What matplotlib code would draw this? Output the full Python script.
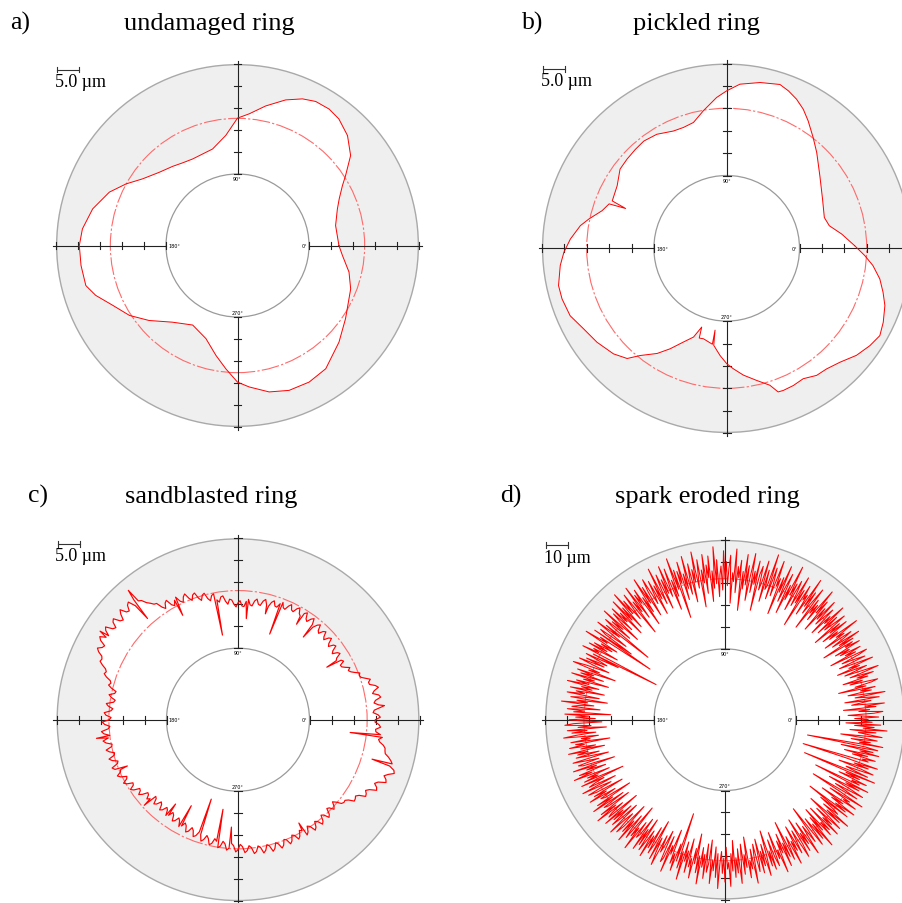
import numpy as np
import matplotlib
matplotlib.use("Agg")
import matplotlib.pyplot as plt
from matplotlib.patches import Circle

# ---- data: radial profile, in um above the inner (offset) circle ----
# a) undamaged ring, traced points
a_angle = [0, 11.5, 20, 24.7, 29.7, 32.9, 38.5, 45, 51.3, 56.1, 61.5, 66.1, 71.7, 78.6, 84.9, 90,
           96.1, 104.5, 117.4, 123.6, 129.3, 136.9, 144.9, 151.1, 157.4, 165.8, 173.9, 180, 187.3,
           194.8, 199.4, 205.6, 212.9, 220.3, 229.7, 240.6, 251.3, 258.9, 264.6, 270, 274.7, 282.2,
           289.6, 297.7, 305.6, 316.4, 325.9, 339, 346.6, 354.6]
a_dev = [6.8, 6.5, 7.9, 9.2, 11.2, 13.0, 16.6, 19.1, 20.6, 21.1, 21.0, 20.2, 18.6, 16.1, 13.8, 12.7,
         8.9, 6.4, 5.9, 6.3, 7.0, 8.1, 10.1, 12.7, 15.3, 17.7, 19.2, 19.7, 19.6,
         19.4, 17.9, 15.2, 13.0, 10.1, 6.6, 4.5, 6.1, 9.2, 11.9, 14.8, 16.0, 17.8,
         18.7, 18.8, 18.2, 15.6, 13.4, 11.3, 9.8, 7.7]
a_lsc = 12.65

# b) pickled ring
b_angle = [1.2, 7.1, 12.4, 17.5, 27.2, 37.9, 46.8, 52, 57.4, 61.2, 64.9, 68.6, 72, 78.6, 85.4, 90,
           93.8, 99.6, 104.8, 109.7, 114.4, 121.5, 127.7, 132.7, 138.2, 143.4, 150.3, 157.5, 158.5,
           159.3, 163.2, 168, 171.2, 176.6, 181.4, 185.9, 192.5, 197.1, 203.3, 209.4, 215.9, 223,
           227.9, 231.1, 236.5, 240.6, 245.2, 249.5, 252.4, 253, 255.6, 261.5, 261.9, 262.4, 266.4,
           270, 273.2, 277.5, 282.8, 287.5, 289.7, 291.7, 295.9, 300.4, 305.3, 309.6, 314.8, 320.5,
           325.8, 330.3, 334.7, 340.1, 344.3, 348.7, 353.3, 357]
b_dev = [12.3, 9.6, 7.2, 6.6, 7.8, 10.1, 13.1, 15.1, 17.5, 19.2, 20.5, 21.5, 22.2, 21.5, 20.5, 18.9,
         17.5, 14.9, 12.8, 12.4, 12.5, 13.6, 14.0, 13.8, 13.6, 13.4, 11.9, 11.4, 8.0,
         11.8, 12.8, 15.2, 16.8, 18.7, 20.1, 21.1, 22.2, 22.2, 21.8, 20.4, 19.5, 18.3,
         16.9, 14.5, 11.9, 9.5, 6.8, 4.9, 2.2, 4.7, 4.6, 5.4, 2.2, 5.6, 7.7,
         9.5, 10.7, 12.3, 14.0, 15.8, 17.8, 17.9, 17.8, 17.5, 18.5, 18.7, 19.6, 21.3,
         22.4, 23.1, 22.4, 21.3, 20.0, 18.6, 16.6, 14.6]
b_lsc = 15.0

# c) sandblasted ring, one value per degree, plus single spikes
c_step = 1
c_dev = [15.0, 16.1, 15.6, 14.5, 14.8, 16.4, 15.9, 14.9, 15.3, 16.6, 16.2, 14.9, 15.4, 16.5, 15.9,
         14.7, 14.6, 15.2, 14.2, 13.3, 13.1, 13.4, 12.4, 11.6, 11.2, 11.8, 10.9, 10.2, 10.1, 11.2,
         10.8, 9.8, 10.2, 11.4, 11.0, 9.9, 10.4, 11.6, 11.3, 10.2, 10.7, 11.9, 11.5, 10.4, 10.9,
         12.0, 11.6, 10.6, 11.0, 12.3, 11.8, 10.8, 11.2, 12.5, 12.0, 11.0, 11.4, 12.7, 12.2, 11.2,
         11.6, 12.8, 12.3, 11.3, 11.5, 12.6, 12.0, 11.0, 11.2, 12.3, 11.8, 10.8, 10.9, 12.0, 11.5,
         10.4, 10.6, 11.8, 11.3, 10.2, 10.4, 11.5, 11.0, 9.8, 10.0, 11.2, 10.7, 9.5, 9.6, 10.8,
         10.3, 9.4, 10.0, 11.0, 11.2, 10.1, 10.8, 12.1, 11.9, 10.8, 11.4, 12.9, 12.6, 11.5, 12.1,
         13.5, 13.2, 12.1, 12.8, 14.2, 13.9, 12.8, 13.5, 14.8, 14.3, 13.2, 13.7, 15.0, 14.5, 13.4,
         13.9, 15.4, 15.0, 13.9, 14.6, 16.0, 16.2, 16.9, 17.5, 18.6, 19.0, 19.8, 18.6, 20.3, 19.9,
         18.7, 19.0, 20.4, 19.6, 18.3, 18.7, 20.2, 19.8, 18.5, 18.9, 20.5, 20.0, 18.8, 19.1, 20.4,
         19.8, 18.4, 18.7, 19.6, 19.0, 17.9, 17.6, 17.8, 17.0, 16.0, 15.6, 15.9, 15.2, 14.1, 13.8,
         14.2, 13.4, 12.2, 12.4, 13.6, 13.0, 12.0, 12.3, 13.9, 13.4, 12.3, 12.7, 14.2, 13.8, 12.6,
         13.0, 14.6, 14.1, 12.9, 13.3, 14.9, 14.4, 13.1, 13.5, 14.8, 14.2, 12.9, 13.1, 14.5, 13.9,
         12.8, 13.0, 14.4, 13.8, 12.6, 12.9, 14.4, 13.9, 12.7, 13.0, 14.0, 13.4, 12.1, 12.4, 13.5,
         12.9, 11.6, 11.8, 12.9, 12.3, 11.0, 11.2, 12.0, 11.3, 10.1, 10.3, 11.2, 10.6, 9.3, 9.6,
         10.8, 10.4, 9.3, 9.7, 10.9, 10.5, 9.4, 9.8, 11.0, 10.6, 9.5, 9.9, 11.2, 10.8, 9.8,
         10.3, 11.5, 11.1, 10.1, 10.6, 11.9, 11.5, 10.4, 10.9, 12.2, 11.8, 10.7, 11.2, 12.6, 12.1,
         11.0, 11.6, 12.9, 12.5, 11.3, 11.8, 13.2, 12.8, 11.6, 12.1, 13.5, 13.0, 11.9, 12.4, 13.8,
         13.3, 12.1, 12.6, 14.0, 13.6, 12.5, 13.0, 14.4, 14.0, 12.8, 13.2, 14.6, 14.1, 12.9, 13.3,
         14.7, 14.2, 13.0, 13.4, 14.6, 14.1, 12.9, 13.2, 14.4, 13.9, 12.7, 13.0, 14.2, 13.7, 12.5,
         12.9, 14.3, 13.8, 12.6, 13.0, 14.4, 13.9, 12.7, 13.1, 14.3, 13.8, 12.5, 12.9, 14.1, 13.6,
         12.3, 12.6, 13.6, 13.1, 12.2, 12.9, 14.0, 14.3, 14.2, 14.8, 16.0, 15.9, 15.6, 16.2, 17.6,
         17.4, 16.9, 17.6, 19.1, 18.8, 18.0, 18.6, 20.3, 20.0, 19.3, 20.1, 21.3, 21.0, 19.8, 20.2,
         19.7, 19.0, 18.1, 17.9, 17.8, 17.3, 16.4, 16.0, 16.8, 16.3, 15.2, 15.1, 16.2, 15.8, 14.9]
c_spike_angle = [5.5, 30.6, 51.7, 58.5, 69.7, 75.5, 85.3, 100.4, 117.9, 130.3, 131.8, 147.3,
                 187.5, 202.7, 222.4, 233.5, 241.5, 251.4, 260.5, 266.5, 300.5, 343.6, 353.5]
c_spike_dev = [17.2, 7.2, 7.7, 9.2, 4.5, 8.6, 6.8, 3.3, 10.6, 22.3, 14.6, 21.0,
               16.2, 11.0, 12.6, 7.6, 6.0, 2.8, 4.4, 8.2, 11.0, 15.5, 9.4]
c_lsc = 13.1

# d) spark eroded ring, one value per half degree
d_step = 0.5
d_dev = [33, 27, 38, 31, 24, 36, 40, 29, 34, 22, 37, 32, 41, 26, 30, 35, 23, 39, 33, 28, 42, 30, 25, 36, 31, 38, 21, 34, 29, 37,
         40, 27, 33, 24, 36, 31, 39, 28, 35, 42, 26, 32, 37, 23, 34, 29, 41, 31, 25, 38, 33, 27, 36, 40, 22, 35, 30, 38, 28, 33,
         26, 39, 32, 36, 21, 37, 30, 41, 27, 34, 38, 24, 35, 31, 43, 28, 33, 25, 39, 30, 36, 22, 40, 34, 29, 37, 26, 42, 31, 35,
         24, 38, 33, 28, 41, 30, 36, 23, 39, 32, 44, 27, 35, 30, 37, 21, 42, 34, 28, 39, 31, 45, 26, 36, 33, 40, 19, 37, 30, 43,
         28, 35, 40, 25, 38, 32, 46, 29, 36, 22, 41, 34, 27, 44, 31, 38, 20, 37, 33, 45, 28, 35, 41, 26, 47, 32, 30, 39, 24, 43,
         33, 29, 40, 36, 19, 42, 31, 37, 27, 45, 34, 23, 39, 30, 44, 28, 36, 18, 41, 33, 38, 26, 46, 31, 35, 21, 43, 37, 29, 40,
         32, 45, 27, 38, 34, 24, 41, 30, 47, 28, 36, 22, 43, 33, 39, 26, 44, 31, 37, 20, 42, 35, 29, 46, 32, 38, 23, 41, 34, 27,
         45, 30, 37, 25, 43, 33, 39, 17, 40, 31, 46, 28, 36, 22, 42, 34, 29, 44, 31, 38, 24, 41, 35, 27, 45, 30, 37, 23, 40, 33,
         29, 42, 36, 24, 39, 31, 44, 27, 35, 21, 40, 33, 38, 26, 43, 30, 36, 19, 41, 34, 28, 39, 32, 44, 25, 37, 30, 42, 23, 36,
         31, 40, 27, 38, 33, 22, 42, 30, 36, 25, 39, 34, 13, 37, 29, 41, 31, 24, 38, 35, 20, 40, 9, 36, 32, 43, 26, 34, 28, 37,
         30, 39, 24, 36, 33, 41, 3, 35, 22, 38, 31, 27, 37, 28, 40, 33, 25, 36, 42, 29, 34, 21, 39, 31, 37, 26, 41, 30, 35, 23,
         38, 32, 42, 27, 35, 30, 40, 24, 37, 33, 41, 26, 34, 39, 22, 36, 31, 43, 28, 35, 38, 25, 40, 32, 37, 20, 41, 30, 36, 27,
         39, 33, 24, 37, 41, 29, 35, 22, 40, 31, 38, 27, 36, 42, 26, 34, 30, 39, 21, 37, 33, 40, 28, 35, 24, 41, 32, 37, 27, 38,
         31, 23, 40, 34, 28, 38, 36, 21, 41, 30, 35, 26, 39, 33, 42, 25, 36, 31, 38, 19, 40, 29, 34, 37, 24, 41, 32, 27, 39, 35,
         22, 37, 31, 40, 27, 35, 33, 20, 38, 30, 41, 25, 36, 34, 23, 39, 31, 42, 28, 35, 37, 21, 40, 30, 36, 26, 38, 33, 24, 41,
         32, 28, 39, 35, 22, 37, 30, 41, 26, 34, 38, 20, 36, 31, 42, 27, 35, 33, 24, 40, 29, 37, 23, 39, 34, 28, 41, 30, 36, 25,
         38, 33, 21, 40, 29, 36, 42, 27, 35, 31, 24, 39, 37, 26, 43, 30, 34, 22, 38, 33, 41, 28, 36, 13, 39, 31, 44, 26, 35, 30,
         40, 24, 37, 33, 42, 28, 35, 21, 39, 31, 44, 27, 36, 30, 41, 25, 38, 34, 23, 43, 32, 37, 26, 40, 29, 45, 33, 28, 38, 31,
         42, 26, 36, 33, 44, 29, 37, 23, 40, 31, 38, 27, 43, 34, 25, 39, 30, 36, 22, 41, 33, 37, 28, 44, 31, 26, 39, 35, 24, 40,
         30, 37, 27, 42, 33, 21, 38, 31, 40, 26, 35, 39, 23, 36, 32, 43, 28, 34, 25, 41, 30, 37, 20, 39, 33, 28, 42, 31, 36, 24,
         38, 32, 27, 41, 35, 22, 39, 30, 36, 25, 42, 33, 28, 37, 31, 19, 40, 34, 26, 38, 30, 43, 27, 35, 23, 39, 32, 37, 24, 41,
         31, 36, 26, 40, 33, 21, 38, 30, 42, 27, 35, 32, 24, 39, 17, 37, 31, 41, 28, 34, 22, 40, 33, 36, 25, 42, 30, 15, 38, 32,
         26, 40, 33, 22, 37, 30, 41, 14, 36, 32, 39, 25, 35, 28, 42, 7, 38, 31, 27, 40, 34, 23, 37, 30, 41, 26, 5, 36, 33, 39,
         28, 35, 24, 40, 31, 37, 22, 39, 33, 6, 41, 30, 35, 26, 38, 32, 21, 40, 34, 29, 37, 25, 42, 31, 36, 27, 39, 23, 35, 30]
d_lsc = 32.2

titles = ["undamaged ring", "pickled ring", "sandblasted ring", "spark eroded ring"]
letters = ["a)", "b)", "c)", "d)"]
scale_text = ["5.0 \u00b5m", "5.0 \u00b5m", "5.0 \u00b5m", "10 \u00b5m"]
um_per_tick = [5.0, 5.0, 5.0, 10.0]

# ---- layout (pixels) ----
W, H = 902, 904
R_IN = 3.25      # inner circle, in tick units
R_OUT = 8.22
AX_END = 8.4
L = 9.0
centers = [(237.5, 246.5), (726.7, 249.3), (238.0, 720.7), (725.0, 720.7)]
ppu = [22.0, 22.4, 22.0, 21.8]   # pixels per tick unit
letter_pos = [(10, 30), (522, 30), (28, 503), (500, 503)]
title_pos = [(209, 30), (696, 30), (211, 503), (707, 503)]
profile_lw = [0.7, 0.7, 0.85, 0.75]

serif = ["Liberation Serif", "DejaVu Serif"]

fig = plt.figure(figsize=(W / 100, H / 100), dpi=100)


def merge_spikes(base_ang, base_dev, sp_ang, sp_dev):
    ang = np.concatenate([base_ang, sp_ang])
    dev = np.concatenate([base_dev, sp_dev])
    order = np.argsort(ang)
    return ang[order], dev[order]


def draw_panel(i, ang, dev, lsc):
    cx, cy = centers[i]
    half = L * ppu[i]
    ax = fig.add_axes([(cx - half) / W, 1 - (cy + half) / H, 2 * half / W, 2 * half / H])
    ax.set_xlim(-L, L)
    ax.set_ylim(-L, L)
    ax.axis("off")
    s = um_per_tick[i]

    th = np.deg2rad(np.asarray(ang, dtype=float))
    r = R_IN + np.asarray(dev, dtype=float) / s
    x = np.append(r * np.cos(th), r[0] * np.cos(th[0]))
    y = np.append(r * np.sin(th), r[0] * np.sin(th[0]))

    ax.add_patch(Circle((0, 0), R_OUT, fc="#efefef", ec="#a9a9a9", lw=1.0, zorder=1))
    ax.fill(x, y, color="white", lw=0, zorder=2)
    ax.add_patch(Circle((0, 0), R_IN + lsc / s, fill=False, ec="#ff6a6a", lw=0.8,
                        ls=(0, (16, 2, 2, 2)), zorder=3))
    ax.add_patch(Circle((0, 0), R_IN, fc="white", ec="#9a9a9a", lw=0.9, zorder=4))

    # cross axes with ticks, outside the inner circle only
    for ux, uy in [(1, 0), (-1, 0), (0, 1), (0, -1)]:
        ax.plot([ux * R_IN, ux * AX_END], [uy * R_IN, uy * AX_END], color="#222222", lw=0.8, zorder=5)
        for k in range(6):
            rt = R_IN + k
            tx, ty = ux * rt, uy * rt
            ax.plot([tx - uy * 0.18, tx + uy * 0.18], [ty - ux * 0.18, ty + ux * 0.18],
                    color="#222222", lw=0.8, zorder=5)

    ax.plot(x, y, color="red", lw=profile_lw[i], zorder=6)

    fs = 3.5
    ax.text(R_IN - 0.1, 0, "0\u00b0", fontsize=fs, ha="right", va="center", zorder=7)
    ax.text(-R_IN + 0.1, 0, "180\u00b0", fontsize=fs, ha="left", va="center", zorder=7)
    ax.text(0, R_IN - 0.1, "90\u00b0", fontsize=fs, ha="center", va="top", zorder=7)
    ax.text(0, -R_IN + 0.1, "270\u00b0", fontsize=fs, ha="center", va="bottom", zorder=7)

    # scale bar: one tick interval
    bx0, bx1, by = -8.2, -7.2, 8.0
    ax.plot([bx0, bx1], [by, by], color="#333333", lw=0.8, zorder=7)
    ax.plot([bx0, bx0], [by - 0.13, by + 0.13], color="#333333", lw=0.8, zorder=7)
    ax.plot([bx1, bx1], [by - 0.13, by + 0.13], color="#333333", lw=0.8, zorder=7)
    ax.text(-8.3, 7.85, scale_text[i], fontsize=13, family=serif, ha="left", va="top", zorder=7)

    fig.text(letter_pos[i][0] / W, 1 - letter_pos[i][1] / H, letters[i], fontsize=18.5,
             family=serif, ha="left", va="baseline")
    fig.text(title_pos[i][0] / W, 1 - title_pos[i][1] / H, titles[i], fontsize=19,
             family=serif, ha="center", va="baseline")


draw_panel(0, a_angle, a_dev, a_lsc)
draw_panel(1, b_angle, b_dev, b_lsc)

c_base_angle = np.arange(len(c_dev)) * c_step
ca, cd = merge_spikes(c_base_angle, c_dev, c_spike_angle, c_spike_dev)
draw_panel(2, ca, cd, c_lsc)

d_angle = np.arange(len(d_dev)) * d_step
draw_panel(3, d_angle, d_dev, d_lsc)

fig.savefig("out.png", dpi=100)
